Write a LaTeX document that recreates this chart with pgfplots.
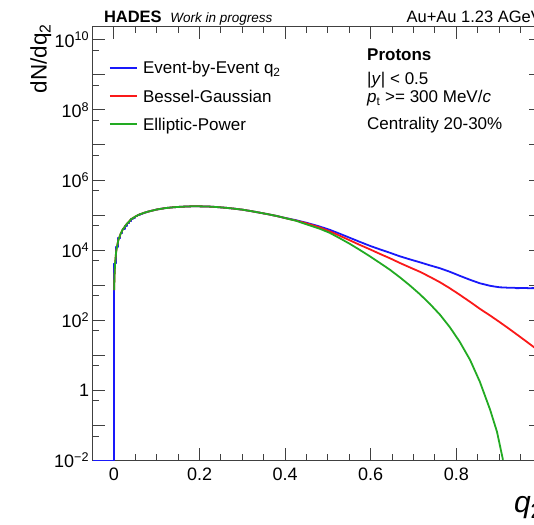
\documentclass[border=0pt]{standalone}
\usepackage{fontspec}
\setmainfont{Liberation Sans}
\usepackage{pgfplots}
\pgfplotsset{compat=1.18}
\definecolor{rblue}{RGB}{25,25,250}
\definecolor{rred}{RGB}{250,25,25}
\definecolor{rgreen}{RGB}{34,170,34}
\newcommand{\fs}[1]{\fontsize{#1}{#1}\selectfont}
\tikzset{txt/.style={anchor=base west, inner sep=0pt, outer sep=0pt}}
\begin{document}
\begin{tikzpicture}
\useasboundingbox (-92.6pt,-64.3pt) rectangle (441.4pt,460.5pt);
\clip (-92.6pt,-64.3pt) rectangle (441.4pt,460.5pt);
\begin{axis}[
  at={(0pt,0pt)}, anchor=south west,
  scale only axis, width=449.3pt, height=434.2pt,
  xmin=-0.05, xmax=1.0,
  ymode=log, ymin=1e-2, ymax=2.43e10,
  clip=false,
  axis line style={line width=1.1pt, black!75},
  tick style={line width=1pt, black!75},
  major tick length=12.6pt, minor tick length=6.8pt,
  xtick={0,0.2,0.4,0.6,0.8,1.0},
  minor x tick num=3,
  ytick={1e-2,1e-1,1,1e1,1e2,1e3,1e4,1e5,1e6,1e7,1e8,1e9,1e10},
  yticklabels={10\textsuperscript{−2},,1,,10\textsuperscript{2},,10\textsuperscript{4},,10\textsuperscript{6},,10\textsuperscript{8},,10\textsuperscript{10}},
  minor ytick={5e-2,5e-1,5,5e1,5e2,5e3,5e4,5e5,5e6,5e7,5e8,5e9},
  /pgf/number format/assume math mode=true,
  xticklabel style={font=\fs{18}, yshift=-4pt},
  yticklabel style={font=\fs{18}},
  every axis plot/.append style={line width=1.8pt, line join=round},
  legend style={at={(0.0365,0.9201)}, anchor=north west, draw=none, fill=none,
    inner sep=0pt, outer sep=0pt, font=\fs{17}, row sep=10.1pt, column sep=5.3pt,
    cells={anchor=base west},
    nodes={inner sep=0pt, text height=13pt, text depth=5pt}},
  legend image code/.code={\draw[#1, line width=1.8pt] (0pt,6.1pt) -- (27pt,6.1pt);},
]
% Event-by-Event q2 histogram (low-q steps)
\addplot[rblue, const plot] coordinates {
 (-0.05,0.01) (0,4169) (0.005,12590) (0.01,22390) (0.015,31620) (0.02,40740)
 (0.025,48980) (0.03,57540) (0.035,66070) (0.04,75860) (0.045,83180)
 (0.05,91200) (0.055,100000) (0.06,107200) (0.065,109600)};
\addlegendentry{Event-by-Event q\textsubscript{2}}
\addplot[rblue, forget plot] coordinates {
 (0.065,109600) (0.07,114800) (0.08,125900) (0.10,144500) (0.12,158500)
 (0.14,167900) (0.16,173800) (0.18,177800) (0.20,177800) (0.22,175800)
 (0.24,169800) (0.26,162200) (0.28,153100) (0.30,142900) (0.32,130300)
 (0.34,117500) (0.36,105900) (0.38,94400) (0.40,83000) (0.425,71600)
 (0.45,60300) (0.478,48400) (0.504,38110) (0.528,29310) (0.551,22540)
 (0.574,17340) (0.598,13300) (0.621,10570) (0.645,8414) (0.668,6683)
 (0.691,5483) (0.715,4508) (0.738,3698) (0.762,3041) (0.785,2415)
 (0.808,1858) (0.832,1429) (0.855,1135) (0.868,1040) (0.879,962) (0.89,915)
 (0.902,871) (0.913,860) (0.925,843) (0.935,850) (0.94,826) (0.949,828)
 (0.96,835) (0.97,822) (0.982,828) (0.99,830) (1.0,832)};
% Bessel-Gaussian fit
\addplot[rred] coordinates {
 (0.0005,724) (0.001,1585) (0.0025,4169) (0.005,8913) (0.0075,13490)
 (0.01,19050) (0.015,28180) (0.02,38020) (0.03,56230) (0.04,75860)
 (0.05,91200) (0.06,104700) (0.07,116000) (0.08,125900) (0.10,144500)
 (0.12,158500) (0.14,167900) (0.16,173800) (0.18,177800) (0.20,177800)
 (0.22,175800) (0.24,169800) (0.26,162200) (0.28,153100) (0.30,142900)
 (0.32,130300) (0.34,117500) (0.36,105900) (0.38,94400) (0.40,82200)
 (0.425,70000) (0.45,58210) (0.478,45700) (0.504,34510) (0.528,25640)
 (0.551,19100) (0.574,14220) (0.598,10570) (0.621,7870) (0.645,5861)
 (0.668,4315) (0.691,3236) (0.715,2415) (0.738,1738) (0.762,1211)
 (0.785,817) (0.808,533) (0.832,336.5) (0.855,212.3) (0.879,136.5)
 (0.902,87.5) (0.925,55.2) (0.949,33.7) (0.982,16.9) (1.0,11.4)};
\addlegendentry{Bessel-Gaussian}
% Elliptic-Power fit
\addplot[rgreen] coordinates {
 (0.0005,724) (0.001,1585) (0.0025,4169) (0.005,8913) (0.0075,13490)
 (0.01,19050) (0.015,28180) (0.02,38020) (0.03,56230) (0.04,75860)
 (0.05,91200) (0.06,104700) (0.07,116000) (0.08,125900) (0.10,144500)
 (0.12,158500) (0.14,167900) (0.16,173800) (0.18,177800) (0.20,177800)
 (0.22,175800) (0.24,169800) (0.26,162200) (0.28,153100) (0.30,142900)
 (0.32,130300) (0.34,117500) (0.36,105900) (0.38,94400) (0.40,82200)
 (0.425,69200) (0.45,54300) (0.48,41200) (0.504,31260) (0.528,21780)
 (0.551,15170) (0.574,10230) (0.598,6683) (0.621,4355) (0.645,2754)
 (0.668,1683) (0.691,995) (0.715,551) (0.738,295) (0.762,143.2)
 (0.785,63.1) (0.808,24.3) (0.832,7.46) (0.855,1.762) (0.879,0.280)
 (0.895,0.0661) (0.909,0.0105)};
\addlegendentry{Elliptic-Power}
\end{axis}
\node[txt, font=\fs{16.5}\bfseries] at (11.4pt,437.5pt) {HADES};
\node[txt, font=\fs{13.5}\itshape] at (77.7pt,437.5pt) {Work in progress};
\node[txt, font=\fs{16.5}] at (314pt,437.5pt) {Au+Au 1.23 AGeV};
\node[txt, font=\fs{17}\bfseries] at (274.6pt,400.1pt) {Protons};
\node[txt, font=\fs{17}] at (274.6pt,375.6pt) {|\textit{y}| < 0.5};
\node[txt, font=\fs{17}] at (274.6pt,357.5pt) {\textit{p}\textsubscript{t} >= 300 MeV/\textit{c}};
\node[txt, font=\fs{17}] at (274.6pt,331.3pt) {Centrality 20-30\%};
\node[anchor=base east, inner sep=0pt, rotate=90, font=\fs{22.5}] at (-45.9pt,436.7pt) {dN/dq\textsubscript{2}};
\node[txt, font=\fs{30}] at (421.4pt,-52pt) {\textit{q}\textsubscript{2}};
\end{tikzpicture}
\end{document}
